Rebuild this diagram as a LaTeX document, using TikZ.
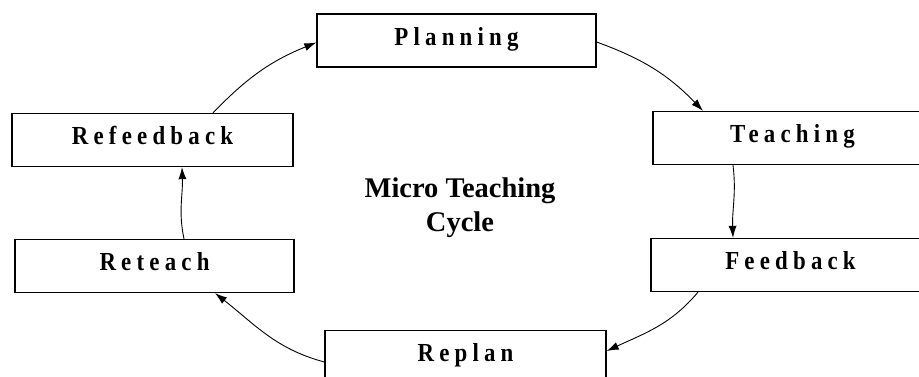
\documentclass[tikz,border=0pt]{standalone}
\usepackage{fontspec}
\setmainfont{Liberation Serif}
\newfontfamily\spacedfont[LetterSpace=20, FakeStretch=0.88]{Liberation Serif}
\usetikzlibrary{arrows.meta}
\begin{document}
\begin{tikzpicture}[x=1pt, y=1pt,
  stage/.style={shape=rectangle, draw, line width=1.3pt, minimum width=279pt, minimum height=53pt,
    inner sep=0pt, text height=16.5pt, text depth=7.5pt, font=\spacedfont\bfseries\fontsize{26}{30}\selectfont},
  cyc/.style={-{Latex[length=12pt,width=8pt]}, line width=0.9pt}]
    \useasboundingbox (0,0) rectangle (919,-376);
    \clip (0,0) rectangle (919,-376);
    \node (plan) at (456.5,-40.5) [stage] {Planning};
    \node (teach) at (792.5,-138) [stage] {Teaching};
    \node (feed) at (790.5,-265) [stage] {Feedback};
    \node (replan) at (465.5,-357) [stage, minimum width=281pt] {Replan};
    \node (reteach) at (154.5,-266) [stage] {Reteach};
    \node (refeed) at (152.5,-140) [stage, minimum width=281pt] {Refeedback};
    %\node[draw] at (460,-200) {};
    \node (title) at (460,-208) [align=center, inner sep=0pt,
      font=\bfseries\fontsize{28.5}{34}\selectfont] {Micro Teaching\\Cycle};

    \draw[cyc] ([xshift=60.5pt]refeed.north) to[out=46, in=202] ([yshift=-2pt]plan.west);
    \draw[cyc] ([yshift=-1.5pt]plan.east) to[out=-20, in=134] ([xshift=-89.5pt]teach.north);
    \draw[cyc] ([xshift=-59.5pt]teach.south) to[out=-83, in=92] ([xshift=-57.5pt]feed.north);
    \draw[cyc] ([xshift=-92.5pt]feed.south) to[out=-130, in=25] ([yshift=6pt]replan.east);
    \draw[cyc] ([yshift=-5pt]replan.west) to[out=165, in=-38] ([xshift=60.5pt]reteach.south);
    \draw[cyc] ([xshift=29.5pt]reteach.north) to[out=102, in=-88] ([xshift=29.5pt]refeed.south);
  \end{tikzpicture}
\end{document}
